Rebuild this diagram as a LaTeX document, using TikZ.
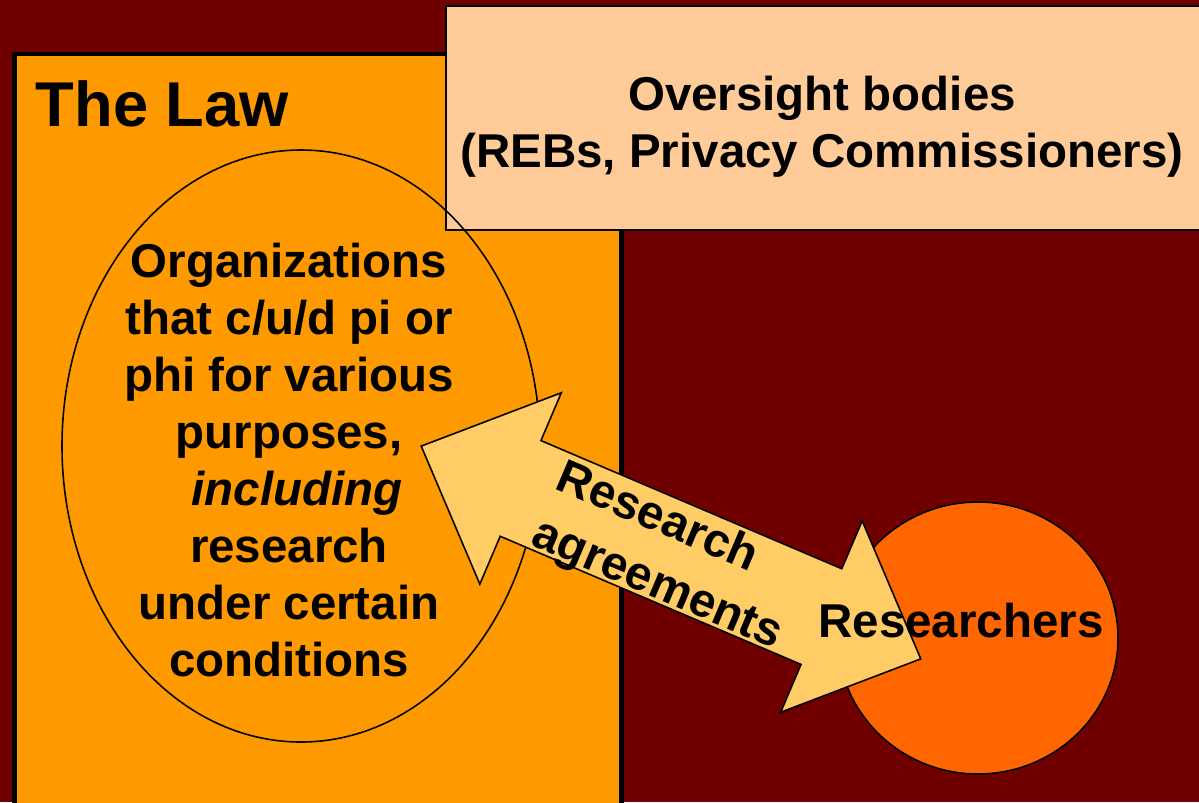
\documentclass[tikz,border=0pt]{standalone}
\usepackage{fontspec}
\setmainfont{Liberation Sans}
\definecolor{bgred}{HTML}{700000}
\definecolor{laworange}{HTML}{FF9900}
\definecolor{peach}{HTML}{FFCC99}
\definecolor{arrowyel}{HTML}{FFCC66}
\definecolor{resorange}{HTML}{FF6600}
\tikzset{
txt/.style={font=\fontsize{13.5}{16.2}\selectfont\bfseries,inner sep=0pt,align=center},
thinline/.style={draw=black,line width=0.45pt}
}
\begin{document}
\begin{tikzpicture}[x=0.01cm,y=-0.01cm]
\pgfmathsetmacro{\kal}{271.5}
\pgfmathsetmacro{\khl}{108}
\pgfmathsetmacro{\kwh}{104}
\pgfmathsetmacro{\kws}{52}
\path[use as bounding box](0,0)rectangle(1199,802);
\clip(0,0)rectangle(1199,802);
\fill[bgred](0,0)rectangle(1199,802);
\filldraw[fill=laworange,line width=1.4pt](14.5,54)rectangle(621.5,820);
\filldraw[fill=peach,line width=0.6pt](446,6)rectangle(1210,230);
\draw[thinline](301,446)ellipse[x radius=239,y radius=296];
\filldraw[fill=resorange,thinline](978,638)ellipse[x radius=140,y radius=136];
\begin{scope}[shift={(671,552.5)},rotate=-23.07]
\filldraw[fill=arrowyel,thinline](-\kal,0)--++(\khl,-\kwh)--++(0,\kws)--++(2*\kal-2*\khl,0)--++(0,-\kws)--++(\khl,\kwh)--++(-\khl,\kwh)--++(0,-\kws)--++(-2*\kal+2*\khl,0)--++(0,\kws)--cycle;
\end{scope}
\node[font=\fontsize{18}{21.6}\selectfont\bfseries,inner sep=0pt,anchor=base west](law)at(35,126){The Law};
\node[txt](over)at(822,127){Oversight bodies\\(REBs, Privacy Commissioners)};
\node[txt](orgs)at(289,460){Organizations\\that c/u/d pi or\\phi for various\\purposes,\\\hspace*{0.16cm}\textit{including}\\research\\under certain\\conditions};
\node[txt,align=left,rotate=-23.07](deal)at(669,557.5){Research\\[1.2pt]agreements};
\node[txt](res)at(961,621){Researchers};
\end{tikzpicture}
\end{document}
